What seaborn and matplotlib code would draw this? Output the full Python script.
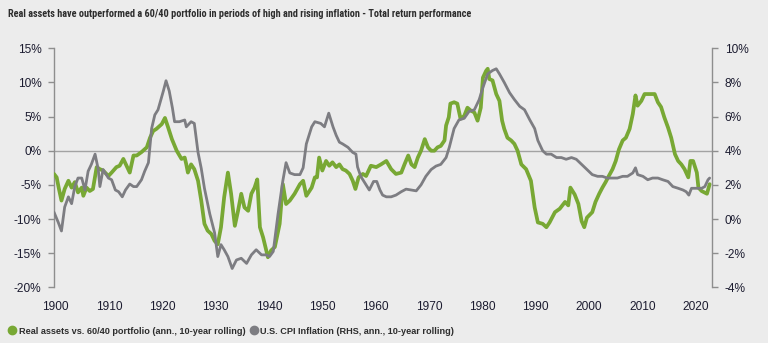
import matplotlib
matplotlib.use("Agg")
import matplotlib.pyplot as plt
from matplotlib import font_manager
from matplotlib.lines import Line2D
import seaborn as sns
import pandas as pd

# Real assets vs. 60/40 portfolio, annualised 10-year rolling excess return (%)
real_years = [
    1899.7, 1900.2, 1900.6, 1901.1, 1901.7, 1902.4, 1903.0, 1903.6, 1904.2, 1904.9,
    1905.2, 1905.8, 1906.4, 1907.0, 1907.7, 1908.3, 1908.9, 1909.9, 1910.5, 1911.4,
    1912.0, 1912.7, 1913.3, 1913.9, 1914.6, 1915.2, 1916.1, 1917.1, 1917.7, 1918.3,
    1918.9, 1919.9, 1920.5, 1921.1, 1921.8, 1922.7, 1923.6, 1924.2, 1924.5, 1924.8,
    1925.4, 1926.0, 1926.7, 1927.3, 1927.9, 1928.5, 1929.2, 1929.8, 1930.4, 1931.0,
    1931.6, 1932.3, 1932.9, 1933.6, 1934.2, 1934.8, 1935.4, 1936.1, 1936.7, 1937.3,
    1937.8, 1938.3, 1938.9, 1939.8, 1940.4, 1941.1, 1942.0, 1942.6, 1943.2, 1943.9,
    1944.8, 1945.8, 1946.4, 1947.0, 1948.0, 1948.6, 1949.0, 1949.4, 1950.0, 1950.7,
    1951.3, 1951.9, 1952.6, 1953.2, 1953.8, 1954.4, 1955.1, 1955.7, 1956.2, 1956.8,
    1957.6, 1958.2, 1959.1, 1960.1, 1961.0, 1962.0, 1962.9, 1963.8, 1964.8, 1965.4,
    1966.1, 1966.7, 1967.3, 1967.9, 1968.5, 1969.2, 1969.8, 1970.4, 1971.0, 1971.6,
    1972.2, 1972.9, 1973.2, 1973.7, 1974.0, 1974.7, 1975.3, 1975.9, 1976.6, 1977.2,
    1977.8, 1978.5, 1979.1, 1979.7, 1980.1, 1980.7, 1981.0, 1981.3, 1981.9, 1982.6,
    1983.2, 1983.7, 1984.1, 1984.7, 1985.4, 1986.0, 1986.6, 1987.3, 1988.2, 1989.1,
    1989.8, 1990.4, 1991.3, 1992.0, 1992.6, 1993.6, 1994.5, 1995.5, 1996.1, 1996.5,
    1997.3, 1998.0, 1998.6, 1999.1, 1999.6, 2000.6, 2001.2, 2001.9, 2002.5, 2003.1,
    2003.7, 2004.4, 2005.0, 2005.6, 2006.3, 2006.9, 2007.6, 2008.2, 2008.7, 2009.1,
    2009.8, 2010.4, 2011.0, 2011.6, 2012.3, 2012.9, 2013.5, 2014.1, 2014.8, 2015.4,
    2016.1, 2016.7, 2017.3, 2017.9, 2018.6, 2019.0, 2019.5, 2020.2, 2020.5, 2021.1,
    2022.1, 2022.6,
]
real_values = [
    -3.4, -3.9, -5.5, -7.3, -5.6, -4.4, -5.4, -4.6, -6.1, -5.4,
    -6.6, -5.4, -5.9, -5.6, -2.4, -2.7, -2.9, -3.7, -3.2, -2.4,
    -2.2, -1.2, -2.2, -3.2, -0.7, -0.7, -0.2, 0.5, 1.9, 2.9,
    3.2, 3.9, 4.8, 3.4, 1.7, 0.0, -1.2, -1.0, -2.0, -3.2,
    -2.0, -2.7, -4.4, -7.3, -10.7, -11.7, -12.2, -13.2, -13.7, -11.2,
    -6.8, -3.2, -6.3, -11.0, -8.8, -6.3, -8.3, -8.8, -6.3, -5.4,
    -4.2, -11.2, -12.7, -15.6, -14.6, -14.1, -10.7, -4.9, -7.8, -7.3,
    -6.3, -4.9, -4.4, -6.6, -5.4, -3.9, -3.9, -1.0, -2.9, -1.5,
    -2.2, -1.7, -2.4, -2.0, -2.7, -2.9, -3.4, -4.4, -5.6, -3.9,
    -3.4, -3.7, -2.2, -2.4, -2.0, -1.5, -2.7, -3.4, -3.2, -2.0,
    -0.7, -2.0, -2.4, -1.0, 0.0, 1.7, 0.5, 0.0, 0.0, 0.5,
    0.7, 1.5, 3.7, 4.9, 6.9, 7.1, 6.9, 4.7, 5.1, 6.3,
    5.9, 5.6, 4.4, 6.3, 10.7, 11.7, 12.0, 10.5, 10.3, 8.3,
    7.3, 4.4, 3.2, 1.9, 1.5, 1.0, 0.0, -2.0, -2.7, -4.4,
    -8.3, -10.5, -10.7, -11.2, -10.5, -9.0, -8.5, -7.5, -8.0, -5.4,
    -6.4, -7.8, -10.3, -11.2, -9.8, -9.0, -7.5, -6.3, -5.4, -4.6,
    -3.7, -2.7, -1.5, 0.2, 1.5, 1.9, 3.2, 5.4, 8.1, 6.6,
    7.3, 8.3, 8.3, 8.3, 8.3, 7.1, 6.4, 4.9, 3.4, 1.9,
    -0.5, -1.5, -2.0, -2.7, -3.9, -1.5, -1.5, -3.2, -5.4, -5.9,
    -6.3, -4.9,
]

# U.S. CPI inflation, annualised 10-year rolling (%), right-hand scale
cpi_years = [
    1899.7, 1900.5, 1901.1, 1901.7, 1902.4, 1903.0, 1903.6, 1904.2, 1904.9, 1905.5,
    1906.1, 1906.7, 1907.4, 1908.0, 1908.3, 1908.9, 1909.9, 1910.5, 1911.2, 1911.8,
    1912.5, 1913.1, 1913.9, 1914.6, 1915.2, 1916.1, 1916.7, 1917.4, 1918.0, 1918.6,
    1919.2, 1920.2, 1920.7, 1921.3, 1921.9, 1922.3, 1923.2, 1924.2, 1924.5, 1925.4,
    1926.0, 1926.7, 1927.3, 1927.9, 1928.9, 1929.8, 1930.4, 1931.0, 1931.6, 1932.3,
    1933.1, 1933.9, 1934.8, 1935.8, 1936.7, 1937.6, 1938.6, 1939.5, 1940.1, 1940.8,
    1941.7, 1942.6, 1943.2, 1943.9, 1944.8, 1945.8, 1946.4, 1947.0, 1948.0, 1948.6,
    1949.7, 1950.4, 1951.2, 1952.0, 1952.6, 1953.2, 1953.8, 1954.8, 1955.7, 1956.3,
    1956.6, 1957.2, 1958.2, 1958.8, 1959.6, 1960.2, 1960.8, 1961.3, 1962.0, 1962.9,
    1963.8, 1964.8, 1965.7, 1966.7, 1967.6, 1968.5, 1969.4, 1970.4, 1971.3, 1972.2,
    1973.2, 1973.8, 1974.7, 1975.6, 1976.6, 1977.5, 1978.5, 1979.4, 1980.1, 1981.0,
    1981.9, 1982.6, 1983.2, 1984.1, 1985.1, 1986.0, 1987.0, 1987.9, 1988.9, 1989.8,
    1990.4, 1991.3, 1992.0, 1992.9, 1993.9, 1994.8, 1995.7, 1996.7, 1997.6, 1998.6,
    1999.6, 2000.6, 2001.6, 2002.5, 2003.4, 2004.4, 2005.3, 2006.3, 2007.2, 2008.2,
    2008.7, 2009.1, 2010.1, 2011.0, 2011.9, 2012.9, 2013.8, 2014.8, 2015.7, 2016.7,
    2017.6, 2018.2, 2018.7, 2019.2, 2020.2, 2021.1, 2021.7, 2022.3, 2022.6,
]
cpi_values = [
    0.4, -0.2, -0.7, 0.7, 1.3, 0.9, 1.9, 2.4, 2.4, 1.7,
    2.8, 3.2, 3.8, 2.9, 1.9, 2.9, 2.4, 2.3, 1.7, 1.6,
    1.3, 1.7, 2.05, 1.9, 1.9, 2.3, 2.8, 3.3, 5.3, 6.1,
    6.4, 7.5, 8.1, 7.5, 6.5, 5.7, 5.7, 5.8, 5.4, 5.7,
    5.6, 3.9, 2.97, 1.8, 0.3, -0.8, -2.2, -1.5, -1.8, -2.2,
    -2.9, -2.4, -2.3, -2.6, -2.1, -1.8, -2.1, -2.1, -2.2, -1.9,
    0.3, 2.25, 3.3, 2.7, 2.6, 2.6, 3.0, 4.4, 5.4, 5.7,
    5.6, 5.4, 6.2, 5.4, 4.9, 4.5, 4.4, 4.2, 3.9, 3.8,
    3.05, 2.5, 2.0, 1.7, 2.2, 2.2, 1.7, 1.4, 1.3, 1.3,
    1.4, 1.6, 1.75, 1.7, 1.65, 2.0, 2.5, 2.9, 3.1, 3.2,
    3.6, 4.2, 5.3, 5.8, 5.9, 6.3, 6.4, 6.99, 7.7, 8.5,
    8.7, 8.8, 8.5, 8.0, 7.4, 7.0, 6.6, 6.4, 5.8, 5.3,
    4.6, 4.0, 3.8, 3.8, 3.6, 3.6, 3.5, 3.6, 3.5, 3.2,
    2.9, 2.6, 2.5, 2.5, 2.4, 2.4, 2.4, 2.5, 2.5, 2.7,
    3.0, 2.6, 2.5, 2.3, 2.4, 2.4, 2.3, 2.2, 1.9, 1.8,
    1.7, 1.6, 1.4, 1.8, 1.8, 1.8, 1.9, 2.3, 2.4,
]

left_ticks = [-20, -15, -10, -5, 0, 5, 10, 15]
right_ticks = [-4, -2, 0, 2, 4, 6, 8, 10]
year_ticks = [1900, 1910, 1920, 1930, 1940, 1950, 1960, 1970, 1980, 1990, 2000, 2010, 2020]

title_text = ("Real assets have outperformed a 60/40 portfolio in periods of high "
              "and rising inflation - Total return performance")
real_label = "Real assets vs. 60/40 portfolio (ann., 10-year rolling)"
cpi_label = "U.S. CPI Inflation (RHS, ann., 10-year rolling)"

GREEN = "#78a834"
GREY = "#7d7d82"
BG = "#ececec"
TEXT = "#1c1c30"
SPINE = "#8e8e8e"


def narrow_bold_font():
    """Return a FontProperties for a condensed bold face if one is installed."""
    keys = ("narrow", "condensed", "cond")
    best = None
    for f in font_manager.fontManager.ttflist:
        name = f.name.lower()
        fname = f.fname.lower()
        stretch = str(f.stretch).lower()
        is_narrow = any(k in name for k in keys) or any(k in fname for k in keys) \
            or stretch in ("condensed", "semi-condensed", "extra-condensed")
        if not is_narrow:
            continue
        w = f.weight if isinstance(f.weight, int) else (700 if "bold" in str(f.weight) else 400)
        if w >= 600 and "italic" not in fname and "oblique" not in fname:
            if best is None or "narrow" in name or "condensed" in name:
                best = f
    if best is not None:
        return font_manager.FontProperties(fname=best.fname)
    return font_manager.FontProperties(family=["Liberation Sans", "DejaVu Sans"], weight="bold")


real_df = pd.DataFrame({"year": real_years, "value": real_values})
cpi_df = pd.DataFrame({"year": cpi_years, "value": cpi_values})

sns.set_theme(style="white")
plt.rcParams["font.family"] = ["Liberation Sans", "DejaVu Sans"]

fig = plt.figure(figsize=(7.68, 3.43), dpi=100, facecolor=BG)
ax = fig.add_axes([54 / 768, 1 - 287.3 / 343, (712.3 - 54) / 768, (287.3 - 48.3) / 343])
ax.set_facecolor(BG)
ax2 = ax.twinx()

ax.axhline(0, color="#a3a3a3", linewidth=1.0, zorder=1)
sns.lineplot(data=real_df, x="year", y="value", ax=ax, color=GREEN,
             linewidth=2.7, estimator=None, sort=False, zorder=3)
sns.lineplot(data=cpi_df, x="year", y="value", ax=ax2, color=GREY,
             linewidth=2.0, estimator=None, sort=False, zorder=3)

ax.set_xlim(1899.7, 2023.1)
ax.set_ylim(-20, 15)
ax2.set_ylim(-4, 10)

ax.set_yticks(left_ticks)
ax.set_yticklabels([f"{t}%" for t in left_ticks])
ax2.set_yticks(right_ticks)
ax2.set_yticklabels([f"{t}%" for t in right_ticks])
ax.set_xticks(year_ticks)
ax.set_xticklabels([str(y) for y in year_ticks])

for a in (ax, ax2):
    a.set_xlabel("")
    a.set_ylabel("")
    a.grid(False)
    for s in a.spines.values():
        s.set_visible(False)

ax.spines["left"].set_visible(True)
ax.spines["left"].set_color(SPINE)
ax.spines["left"].set_linewidth(1.0)
ax2.spines["right"].set_visible(True)
ax2.spines["right"].set_color(SPINE)
ax2.spines["right"].set_linewidth(1.0)

ax.tick_params(axis="y", which="major", left=True, length=4, width=1.0,
               color=SPINE, pad=5, labelsize=8.6, labelcolor=TEXT)
ax.tick_params(axis="x", which="major", bottom=False, length=0, pad=10,
               labelsize=8.6, labelcolor=TEXT)
ax2.tick_params(axis="y", which="major", right=True, length=4, width=1.0,
                color=SPINE, pad=5, labelsize=8.6, labelcolor=TEXT)

# Title in a condensed bold face, sized so it spans the same width as the heading block
title_font = narrow_bold_font()
title_font.set_size(9.4)
title = fig.text(8 / 768, 1 - 14 / 343, title_text, ha="left", va="center",
                 color="#2d2d2d", fontproperties=title_font)
fig.canvas.draw()
renderer = fig.canvas.get_renderer()
width_px = title.get_window_extent(renderer).width
target_px = 466.0
if width_px > target_px * 1.05:
    title_font.set_size(max(7.4, 9.4 * target_px / width_px))
    title.set_fontproperties(title_font)

handles = [
    Line2D([], [], linestyle="none", marker="o", markersize=6,
           markerfacecolor=GREEN, markeredgecolor=GREEN, label=real_label),
    Line2D([], [], linestyle="none", marker="o", markersize=6,
           markerfacecolor=GREY, markeredgecolor=GREY, label=cpi_label),
]
fig.legend(handles=handles, loc="center left", bbox_to_anchor=(5 / 768, 1 - 331 / 343),
           ncol=2, frameon=False, handlelength=0.8, handletextpad=0.3,
           columnspacing=0.5, borderaxespad=0,
           prop={"family": ["Liberation Sans", "DejaVu Sans"],
                 "weight": "bold", "size": 6.6},
           labelcolor="#2d2d2d")

fig.savefig("out.png", dpi=100, facecolor=BG)
